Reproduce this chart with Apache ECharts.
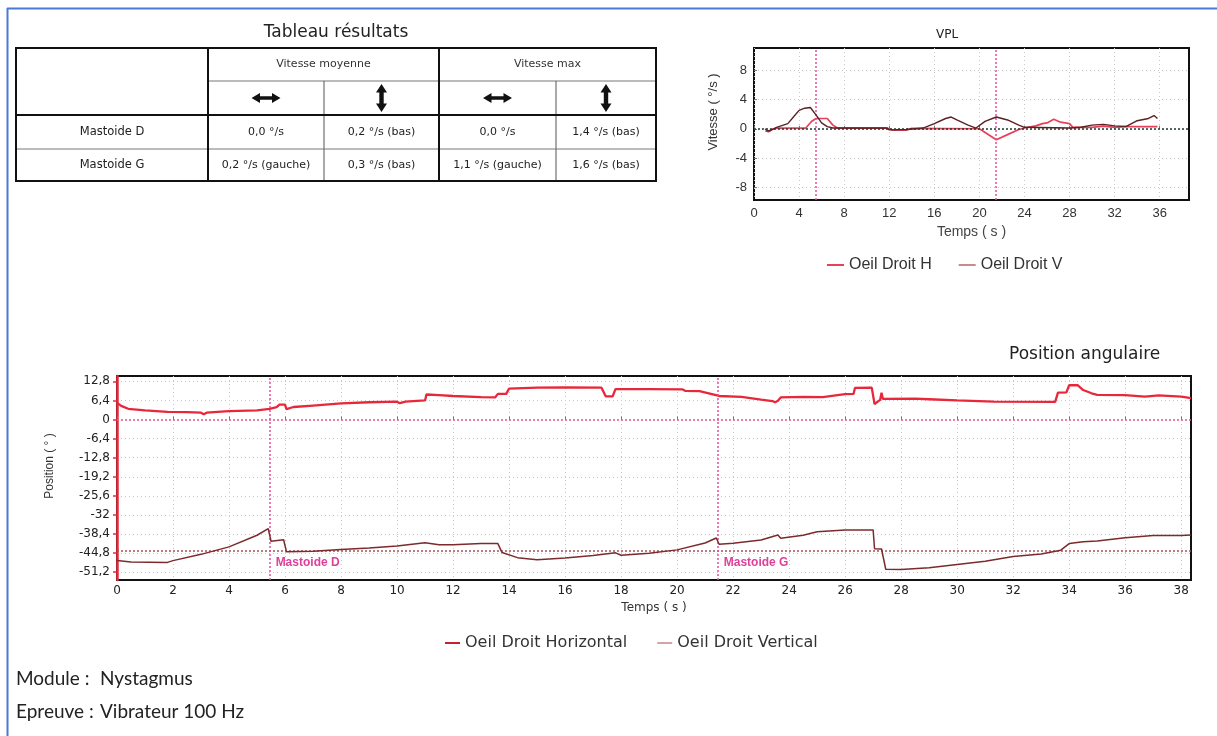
<!DOCTYPE html>
<html>
<head>
<meta charset="utf-8">
<script src="https://cdn.jsdelivr.net/npm/echarts@6/dist/echarts.min.js"></script>
<style>
  html, body { margin: 0; padding: 0; background: #fff; }
  #page { width: 1217px; height: 736px; }
</style>
</head>
<body>
<div id="page"></div>
<script>
// ---- Results table ----
const tableTitle = 'Tableau résultats';
const groupHeaders = ['Vitesse moyenne', 'Vitesse max'];
const directionIcons = ['h', 'v', 'h', 'v'];
const rowLabels = ['Mastoide D', 'Mastoide G'];
const mastoideD = ['0,0 °/s', '0,2 °/s (bas)', '0,0 °/s', '1,4 °/s (bas)'];
const mastoideG = ['0,2 °/s (gauche)', '0,3 °/s (bas)', '1,1 °/s (gauche)', '1,6 °/s (bas)'];

// ---- Stimulations (s) ----
const stimNames = ['Mastoide D', 'Mastoide G'];
const stimTimes = [5.45, 21.45];

// ---- VPL (°/s) : [temps, vitesse] ----
const vplTicksX = [0, 4, 8, 12, 16, 20, 24, 28, 32, 36];
const vplTicksY = [-8, -4, 0, 4, 8];
const vplH = [[1, -0.3], [1.3, -0.4], [1.6, -0.1], [2, 0.1], [3, 0.1], [4.6, 0.1], [5.1, 1.0], [5.5, 1.4],
  [6.5, 1.4], [7.0, 0.5], [7.4, 0.1], [11.8, 0.1], [12.3, -0.2], [13.5, -0.2], [14, 0.05], [20, 0],
  [21.5, -1.5], [22.5, -0.8], [23.5, -0.1], [24, 0.1], [25, 0.4], [25.6, 0.7], [26, 0.8], [26.6, 1.3],
  [27.2, 0.9], [28, 0.7], [28.3, 0.2], [30, 0.2], [31, 0.35], [32, 0.2], [33, 0.3], [35.8, 0.3]];
const vplV = [[1, 0], [1.2, -0.3], [1.5, -0.2], [2, 0.2], [3, 0.7], [3.5, 1.6], [4, 2.5], [4.5, 2.8],
  [5, 2.9], [5.5, 1.9], [6, 0.8], [6.5, 0.3], [7, 0.1], [11.8, 0.1], [12, -0.15], [13.5, -0.1], [15, 0.1],
  [16, 0.7], [17, 1.4], [17.5, 1.6], [18, 1.2], [19, 0.5], [19.7, 0.1], [20.5, 1.0], [21.5, 1.6],
  [22.5, 1.2], [23.5, 0.5], [24, 0.2], [28, 0.1], [29, 0.2], [30, 0.5], [31, 0.6], [32, 0.4], [33, 0.3],
  [34, 1.1], [35, 1.4], [35.5, 1.8], [35.8, 1.4]];

// ---- Position angulaire (°) : [temps, position] ----
const posTicksX = [0, 2, 4, 6, 8, 10, 12, 14, 16, 18, 20, 22, 24, 26, 28, 30, 32, 34, 36, 38];
const posTicksY = [12.8, 6.4, 0, -6.4, -12.8, -19.2, -25.6, -32, -38.4, -44.8, -51.2];
const posRefLevels = [0, -44];
const posHorizontal = [[0, 5.6], [0.15, 4.6], [0.4, 3.6], [1, 3.1], [1.8, 2.6], [2.5, 2.5], [3.0, 2.3],
  [3.1, 1.8], [3.2, 2.3], [4, 2.8], [5, 3.1], [5.45, 3.6], [5.7, 4.2], [5.8, 5.0], [6.0, 5.0], [6.05, 3.5],
  [6.3, 4.2], [7, 4.7], [8, 5.4], [9, 5.8], [10, 6.0], [10.1, 5.5], [10.3, 6.0], [11, 6.4], [11.05, 8.4],
  [11.5, 8.2], [12, 7.9], [13, 7.5], [13.5, 7.4], [13.6, 8.6], [13.9, 8.6], [14.0, 10.4], [15, 10.7],
  [16, 10.8], [17.3, 10.7], [17.45, 7.8], [17.7, 7.8], [17.8, 10.2], [19, 10.2], [20.2, 10.1],
  [20.3, 9.6], [20.8, 9.5], [21.5, 7.9], [22.3, 7.6], [23, 6.7], [23.4, 6.2], [23.5, 5.8], [23.6, 6.3],
  [23.7, 7.4], [24.5, 7.6], [25.2, 7.5], [26, 8.5], [26.3, 8.6], [26.35, 10.6], [26.95, 10.7],
  [27.05, 5.2], [27.25, 6.6], [27.3, 9.0], [27.35, 6.9], [28.5, 7.0], [29, 6.8], [30, 6.4], [31.3, 6.0],
  [33.5, 5.9], [33.6, 9.0], [33.9, 9.1], [34.0, 11.5], [34.3, 11.5], [34.5, 9.9], [34.8, 8.8], [35, 8.3],
  [36, 8.2], [36.7, 7.7], [37.2, 8.1], [38, 7.7], [38.35, 7.2]];
const posVertical = [[0, -47.3], [0.5, -47.8], [1.8, -47.9], [2, -47.3], [3, -45.2], [4, -42.7],
  [5, -38.8], [5.4, -36.6], [5.5, -40.8], [5.95, -40.3], [6.05, -44.3], [7, -44.2], [8, -43.6],
  [9, -43.1], [10, -42.4], [11, -41.3], [11.5, -42.0], [12, -42.0], [13, -41.6], [13.6, -41.6],
  [13.75, -44.6], [14.3, -46.3], [15, -47.0], [16, -46.4], [17, -45.6], [17.8, -44.7], [18, -45.5],
  [19, -44.8], [20, -43.7], [21, -41.4], [21.4, -39.7], [21.5, -41.8], [22, -41.5], [23, -40.4],
  [23.6, -38.7], [23.7, -39.8], [24.5, -38.8], [25, -37.6], [26, -37.0], [27, -37.0], [27.05, -43.3],
  [27.3, -43.4], [27.45, -50.2], [28, -50.3], [29, -49.7], [30, -48.6], [31, -47.5], [32, -45.9],
  [33, -45.1], [33.7, -43.8], [34, -41.6], [34.5, -41.0], [35, -40.7], [36, -39.6], [37, -38.9],
  [38, -38.9], [38.35, -38.7]];

// ---- layout ----
const TABLE_X = [16, 208, 324, 439, 556, 656];
const TABLE_Y = [48, 81, 115, 149, 181];
const STIM_LABEL_LEVEL = -48;
const VERDANA = 'DejaVu Sans';
const ARIAL = 'Liberation Sans';

const chart = echarts.init(document.getElementById('page'), null, { renderer: 'canvas' });
const comma = v => String(v).replace('.', ',');

function arrowPoints(kind, cx, cy) {
  // double-headed arrow outline
  const L = kind === 'h' ? 14.5 : 14, H = kind === 'h' ? 5 : 5.5, S = kind === 'h' ? 1.8 : 2.2, K = 8.5;
  const pts = [[-L, 0], [-L + K, -H], [-L + K, -S], [L - K, -S], [L - K, -H], [L, 0], [L - K, H], [L - K, S], [-L + K, S], [-L + K, H]];
  return pts.map(([a, b]) => kind === 'h' ? [cx + a, cy + b] : [cx + b, cy + a]);
}

function tableGraphics() {
  const g = [];
  const line = (x1, y1, x2, y2, w, c) => g.push({ type: 'line', shape: { x1, y1, x2, y2 }, style: { stroke: c, lineWidth: w } });
  const text = (s, x, y, size, color, fam) => g.push({ type: 'text', x, y, style: { text: s, fontSize: size, fontFamily: fam || VERDANA, fill: color || '#222', align: 'center', verticalAlign: 'middle' } });
  const [x0, x1, x2, x3, x4, x5] = TABLE_X;
  const [y0, y1, y2, y3, y4] = TABLE_Y;
  // thin inner rules
  line(x1, y1, x5, y1, 1, '#777');
  line(x2, y1, x2, y4, 1, '#555');
  line(x4, y1, x4, y4, 1, '#555');
  line(x0, y3, x5, y3, 1, '#777');
  // heavy rules
  line(x1, y0, x1, y4, 2, '#111');
  line(x3, y0, x3, y4, 2, '#111');
  line(x0, y2, x5, y2, 2, '#111');
  g.push({ type: 'rect', shape: { x: x0, y: y0, width: x5 - x0, height: y4 - y0 }, style: { fill: 'none', stroke: '#111', lineWidth: 2 } });
  text(tableTitle, 336, 33, 17, '#222', VERDANA);
  text(groupHeaders[0], (x1 + x3) / 2, (y0 + y1) / 2, 11, '#333');
  text(groupHeaders[1], (x3 + x5) / 2, (y0 + y1) / 2, 11, '#333');
  directionIcons.forEach((k, i) => {
    const cx = (TABLE_X[i + 1] + TABLE_X[i + 2]) / 2;
    g.push({ type: 'polygon', shape: { points: arrowPoints(k, cx, (y1 + y2) / 2) }, style: { fill: '#111' } });
  });
  [mastoideD, mastoideG].forEach((row, r) => {
    const cy = (TABLE_Y[r + 2] + TABLE_Y[r + 3]) / 2;
    text(rowLabels[r], (x0 + x1) / 2, cy, 11.5, '#222');
    row.forEach((v, i) => text(v, (TABLE_X[i + 1] + TABLE_X[i + 2]) / 2, cy, 11, '#222'));
  });
  return g;
}

const gridLine = { show: true, lineStyle: { color: '#c8c8c8', type: [1, 3], width: 1 } };

const option = {
  animation: false,
  backgroundColor: '#ffffff',
  title: [
    { text: 'VPL', left: 942, top: 24, textAlign: 'center', textStyle: { fontFamily: VERDANA, fontSize: 12, fontWeight: 'normal', color: '#222' } },
    { text: 'Position angulaire', left: 1004, top: 341, textStyle: { fontFamily: VERDANA, fontSize: 17, fontWeight: 'normal', color: '#222' } }
  ],
  legend: [
    {
      left: 822, top: 252, icon: 'rect', itemWidth: 17, itemHeight: 2, itemGap: 27,
      textStyle: { fontFamily: ARIAL, fontSize: 16, color: '#333' },
      data: [{ name: 'Oeil Droit H', itemStyle: { color: '#e8405a' } }, { name: 'Oeil Droit V', itemStyle: { color: '#c88a8a' } }]
    },
    {
      left: 440, top: 630, icon: 'rect', itemWidth: 15, itemHeight: 2, itemGap: 30,
      textStyle: { fontFamily: VERDANA, fontSize: 16, color: '#333' },
      data: [{ name: 'Oeil Droit Horizontal', itemStyle: { color: '#c8202e' } }, { name: 'Oeil Droit Vertical', itemStyle: { color: '#d4a4a4' } }]
    }
  ],
  grid: [
    { left: 754, top: 48, width: 435, height: 152, show: true, borderColor: '#111', borderWidth: 2, backgroundColor: 'transparent' },
    { left: 117, top: 376, width: 1074, height: 204, show: true, borderColor: '#111', borderWidth: 2, backgroundColor: 'transparent' }
  ],
  xAxis: [
    {
      gridIndex: 0, type: 'value', min: 0, max: 38.6,
      axisLine: { show: false },
      axisTick: { show: true, customValues: vplTicksX, length: 3, inside: true, lineStyle: { color: '#777' } },
      axisLabel: { customValues: vplTicksX, fontFamily: ARIAL, fontSize: 13, color: '#333', margin: 7 },
      splitLine: gridLine,
      name: 'Temps ( s )', nameLocation: 'middle', nameGap: 25,
      nameTextStyle: { fontFamily: ARIAL, fontSize: 14, color: '#444' }
    },
    {
      gridIndex: 1, type: 'value', min: 0, max: 38.35,
      axisLine: { show: false },
      axisTick: { show: true, customValues: posTicksX, length: 3, inside: true, lineStyle: { color: '#777' } },
      axisLabel: { customValues: posTicksX, fontFamily: VERDANA, fontSize: 12, color: '#222', margin: 5 },
      splitLine: gridLine,
      name: 'Temps ( s )', nameLocation: 'middle', nameGap: 22,
      nameTextStyle: { fontFamily: VERDANA, fontSize: 12, color: '#333' }
    }
  ],
  yAxis: [
    {
      gridIndex: 0, type: 'value', min: -9.7, max: 11,
      axisLine: { show: false },
      axisTick: { show: true, customValues: vplTicksY, length: 3, inside: true, lineStyle: { color: '#777' } },
      axisLabel: { customValues: vplTicksY, fontFamily: ARIAL, fontSize: 13, color: '#333', margin: 7 },
      splitLine: gridLine,
      name: 'Vitesse ( °/s )', nameLocation: 'middle', nameGap: 34, nameRotate: 90,
      nameTextStyle: { fontFamily: ARIAL, fontSize: 13, color: '#333', padding: [0, 0, 0, 24] }
    },
    {
      gridIndex: 1, type: 'value', min: -53.8, max: 14.6,
      axisLine: { show: true, lineStyle: { color: '#e8283a', width: 2.5 } },
      axisTick: { show: true, customValues: posTicksY, length: 4, lineStyle: { color: '#e8283a', width: 1.5 } },
      axisLabel: { customValues: posTicksY, formatter: comma, fontFamily: VERDANA, fontSize: 12, color: '#222', margin: 7 },
      splitLine: gridLine,
      name: 'Position ( ° )', nameLocation: 'middle', nameGap: 61, nameRotate: 90,
      nameTextStyle: { fontFamily: ARIAL, fontSize: 12, color: '#333', padding: [0, 0, 0, 24] }
    }
  ],
  graphic: [
    { type: 'line', shape: { x1: 7, y1: 8.5, x2: 1217, y2: 8.5 }, style: { stroke: '#4a7bd4', lineWidth: 2 } },
    { type: 'line', shape: { x1: 7.5, y1: 8, x2: 7.5, y2: 736 }, style: { stroke: '#4a7bd4', lineWidth: 2 } },
    ...tableGraphics(),
    { type: 'text', left: 16, top: 669, style: { text: 'Module :', fontFamily: 'Lato', fontSize: 19, fill: '#222' } },
    { type: 'text', left: 100, top: 669, style: { text: 'Nystagmus', fontFamily: 'Lato', fontSize: 19, fill: '#222' } },
    { type: 'text', left: 16, top: 702, style: { text: 'Epreuve :', fontFamily: 'Lato', fontSize: 19, fill: '#222' } },
    { type: 'text', left: 100, top: 702, style: { text: 'Vibrateur 100 Hz', fontFamily: 'Lato', fontSize: 19, fill: '#222' } }
  ],
  series: [
    {
      name: 'Oeil Droit H', type: 'line', xAxisIndex: 0, yAxisIndex: 0, data: vplH,
      showSymbol: false, z: 4, lineStyle: { color: '#e8405a', width: 1.7 }, itemStyle: { color: '#e8405a' }
    },
    {
      name: 'Oeil Droit V', type: 'line', xAxisIndex: 0, yAxisIndex: 0, data: vplV,
      showSymbol: false, z: 5, lineStyle: { color: '#5c1f22', width: 1.4 }, itemStyle: { color: '#5c1f22' },
      markLine: {
        silent: true, symbol: ['none', 'none'], label: { show: false },
        data: [
          { yAxis: 0, lineStyle: { color: '#1e3d2e', type: [2, 2], width: 1.5 } },
          ...stimTimes.map(t => ({ xAxis: t, lineStyle: { color: '#e0509a', type: [2, 2], width: 1.5 } }))
        ]
      }
    },
    {
      name: 'Oeil Droit Horizontal', type: 'line', xAxisIndex: 1, yAxisIndex: 1, data: posHorizontal,
      showSymbol: false, z: 4, lineStyle: { color: '#e8283a', width: 2.3 }, itemStyle: { color: '#e8283a' },
      markLine: {
        silent: true, symbol: ['none', 'none'], label: { show: false },
        data: [
          { yAxis: posRefLevels[0], lineStyle: { color: '#e06080', type: [2, 2], width: 1.5 } },
          { yAxis: posRefLevels[1], lineStyle: { color: '#a8505a', type: [2, 2], width: 1.5 } },
          ...stimTimes.map(t => ({ xAxis: t, lineStyle: { color: '#e0509a', type: [2, 2], width: 1.5 } }))
        ]
      },
      markPoint: {
        silent: true, symbol: 'circle', symbolSize: 0,
        label: { show: true, position: 'right', distance: 6, color: '#e0409a', fontFamily: ARIAL, fontSize: 12, fontWeight: 'bold', formatter: p => p.name },
        data: stimNames.map((n, i) => ({ name: n, coord: [stimTimes[i], STIM_LABEL_LEVEL] }))
      }
    },
    {
      name: 'Oeil Droit Vertical', type: 'line', xAxisIndex: 1, yAxisIndex: 1, data: posVertical,
      showSymbol: false, z: 5, lineStyle: { color: '#7c2a2c', width: 1.5 }, itemStyle: { color: '#7c2a2c' }
    }
  ]
};

chart.setOption(option);
</script>
</body>
</html>
